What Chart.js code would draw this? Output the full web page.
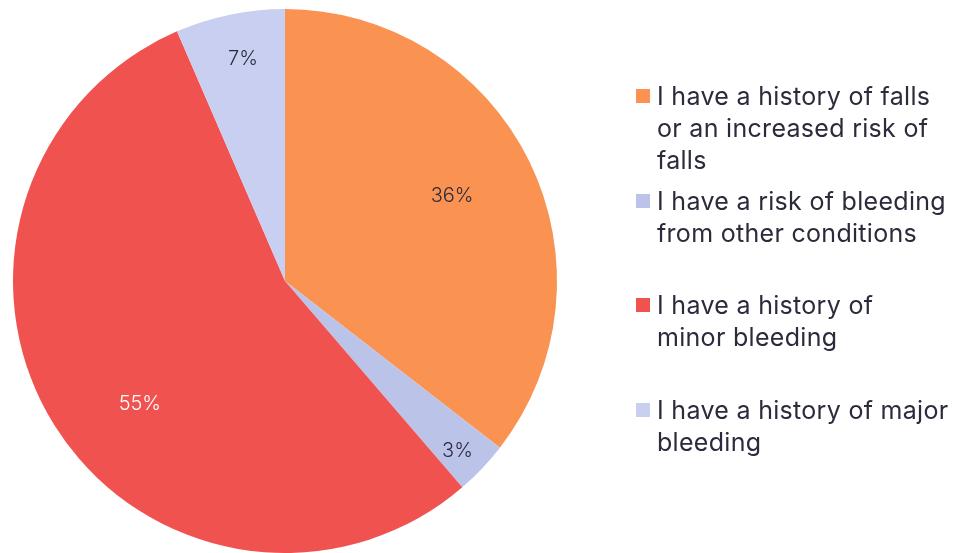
<!DOCTYPE html>
<html>
<head>
<meta charset="utf-8">
<script src="https://cdn.jsdelivr.net/npm/chart.js@4"></script>
<style>
  html, body { margin: 0; padding: 0; background: #fff; }
  .wrap { position: relative; width: 954px; height: 553px; }
  .legend { position: absolute; left: 636px; top: 0; font-family: "Inter", sans-serif; color: #2b2b3c; }
  .legend .item { position: absolute; left: 0; white-space: nowrap; }
  .legend .box { position: absolute; left: 0; width: 14px; height: 14px; }
  .legend .text { position: absolute; left: 21px; font-size: 25px; line-height: 32px; letter-spacing: 0.3px; }
</style>
</head>
<body>
<div class="wrap">
  <canvas id="pie" width="954" height="553"></canvas>
  <div class="legend" id="legend"></div>
</div>
<script>
"use strict"

// data
const categories = [
  ["I have a history of falls", "or an increased risk of", "falls"],
  ["I have a risk of bleeding", "from other conditions"],
  ["I have a history of", "minor bleeding"],
  ["I have a history of major", "bleeding"]
];
const shares = [35.5, 3.2, 54.8, 6.5];
const sliceColors = ["#fa9251", "#bcc3e9", "#f0524f", "#c9cff1"];

// label look, per slice
const labelRadius = [0.69, 0.89, 0.70, 0.83];
const labelShift = [-1, 1, -8.3, 1]; // degrees, away from the slice middle
const labelColors = ["#2b2b3c", "#2b2b3c", "#ffffff", "#2b2b3c"];

const sliceLabels = {
  id: "sliceLabels",
  afterDatasetsDraw(chart) {
    const ctx = chart.ctx;
    const meta = chart.getDatasetMeta(0);
    ctx.save();
    ctx.font = "300 20px Inter, sans-serif";
    ctx.textAlign = "center";
    ctx.textBaseline = "middle";
    meta.data.forEach((arc, i) => {
      const p = arc.getProps(["x", "y", "startAngle", "endAngle", "outerRadius"], true);
      const mid = (p.startAngle + p.endAngle) / 2 + labelShift[i] * Math.PI / 180;
      const r = p.outerRadius * labelRadius[i];
      ctx.fillStyle = labelColors[i];
      ctx.fillText(Math.round(shares[i]) + "%", p.x + Math.cos(mid) * r, p.y + Math.sin(mid) * r);
    });
    ctx.restore();
  }
};

const chart = new Chart(document.querySelector("#pie"), {
  type: "pie",
  data: {
    labels: categories,
    datasets: [
      {
        data: shares,
        backgroundColor: sliceColors,
        borderWidth: 0,
      },
    ],
  },
  options: {
    responsive: false,
    animation: false,
    layout: {
      padding: { left: 13, right: 397, top: 9, bottom: 0 },
    },
    plugins: {
      legend: { display: false },
      tooltip: { enabled: false },
    },
  },
  plugins: [sliceLabels],
});

// legend on the right, one block per slice
const legendEl = document.querySelector("#legend");
categories.forEach((lines, i) => {
  const item = document.createElement("div");
  item.className = "item";
  item.style.top = (80 + i * 104.7) + "px";
  item.innerHTML = `<span class="box" style="background:${sliceColors[i]};top:9px"></span>` +
    `<span class="text">${lines.join("<br>")}</span>`;
  legendEl.appendChild(item);
});
</script>
</body>
</html>
